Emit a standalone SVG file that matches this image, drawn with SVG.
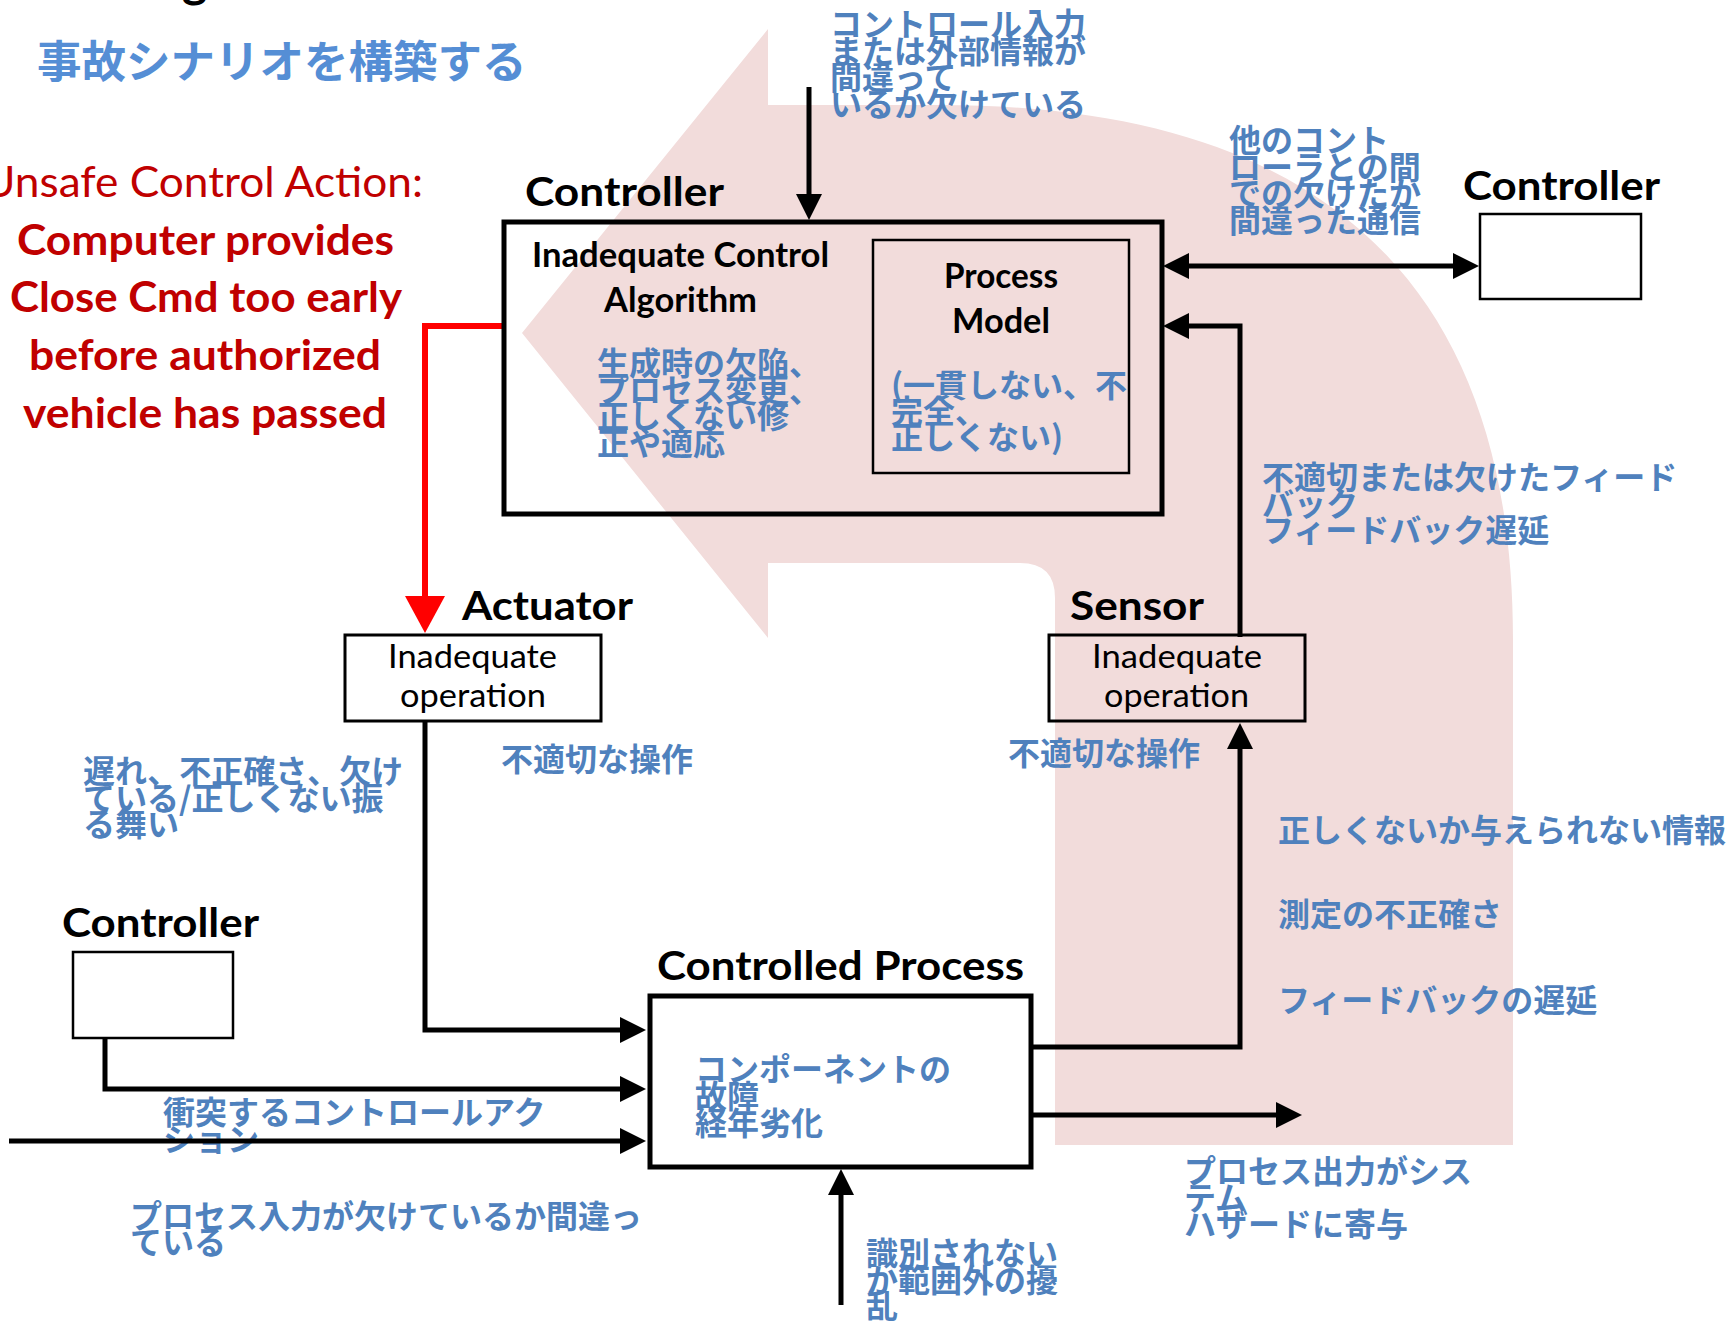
<svg xmlns="http://www.w3.org/2000/svg" width="1727" height="1323" viewBox="0 0 1727 1323">
<style>
.jp{font-family:"Noto Sans CJK JP","Noto Sans CJK SC",sans-serif;font-weight:700;font-size:32px;fill:#4F81BD}
.title{font-family:"Noto Sans CJK JP",sans-serif;font-weight:700;font-size:44.5px;fill:#558ED5}
.en{font-family:Lato,"Liberation Sans",sans-serif}
.lbl{font-weight:700;font-size:40px;fill:#000}
.red{fill:#C00000;font-size:42px}
.in{font-weight:700;font-size:34px;fill:#000}
.op{font-weight:400;font-size:32px;fill:#000}
.box{fill:none;stroke:#000}
.conn{fill:none;stroke:#000;stroke-width:5}
</style>
<defs>
<marker id="ah" viewBox="0 0 26 26" refX="2" refY="13" markerWidth="26" markerHeight="26" markerUnits="userSpaceOnUse" orient="auto-start-reverse">
<path d="M0,0 L26,13 L0,26 z" fill="#000"/>
</marker>
<marker id="ahr" viewBox="0 0 37 40" refX="2" refY="20" markerWidth="37" markerHeight="40" markerUnits="userSpaceOnUse" orient="auto">
<path d="M0,0 L37,20 L0,40 z" fill="#FF0000"/>
</marker>
</defs>
<rect width="1727" height="1323" fill="#fff"/>
<g id="uturn-arrow">
<path d="M522,333 L768,29 L768,105 L940,105 C1330,105 1513,290 1513,640 L1513,1145 L1055,1145 L1055,598 Q1055,563 1020,563 L768,563 L768,638 Z" fill="#F2DCDB"/>
</g>
<g id="heading">
<text class="en" x="182" y="-3" font-size="48" font-weight="700">g</text>
<text class="title" x="37" y="78">事故シナリオを構築する</text>
</g>
<g id="uca">
<text class="en red" x="-17" y="197" textLength="440" lengthAdjust="spacingAndGlyphs">Unsafe Control Action:</text>
<text class="en red" font-weight="700" x="17" y="255" textLength="377" lengthAdjust="spacingAndGlyphs">Computer provides</text>
<text class="en red" font-weight="700" x="10" y="312" textLength="392" lengthAdjust="spacingAndGlyphs">Close Cmd too early</text>
<text class="en red" font-weight="700" x="29" y="370" textLength="352" lengthAdjust="spacingAndGlyphs">before authorized</text>
<text class="en red" font-weight="700" x="23" y="428" textLength="364" lengthAdjust="spacingAndGlyphs">vehicle has passed</text>
</g>
<g id="labels">
<text class="jp"><tspan x="830" y="36">コントロール入力</tspan><tspan x="830" y="62.5">または外部情報が</tspan><tspan x="830" y="89">間違って</tspan><tspan x="830" y="115.5">いるか欠けている</tspan></text>
<text class="jp"><tspan x="1229" y="152">他のコント</tspan><tspan x="1229" y="178.5">ローラとの間</tspan><tspan x="1229" y="205">での欠けたか</tspan><tspan x="1229" y="231.5">間違った通信</tspan></text>
<text class="jp"><tspan x="1262" y="489">不適切または欠けたフィード</tspan><tspan x="1262" y="515.5">バック</tspan><tspan x="1262" y="542">フィードバック遅延</tspan></text>
<text class="jp" x="501" y="771">不適切な操作</text>
<text class="jp" x="1008" y="765">不適切な操作</text>
<text class="jp"><tspan x="83" y="783">遅れ、不正確さ、欠け</tspan><tspan x="83" y="809.5">ている/正しくない振</tspan><tspan x="83" y="836">る舞い</tspan></text>
<text class="jp" x="1278" y="842">正しくないか与えられない情報</text>
<text class="jp" x="1278" y="926">測定の不正確さ</text>
<text class="jp" x="1278" y="1012">フィードバックの遅延</text>
<text class="jp"><tspan x="163" y="1124">衝突するコントロールアク</tspan><tspan x="163" y="1151">ション</tspan></text>
<text class="jp"><tspan x="130" y="1228">プロセス入力が欠けているか間違っ</tspan><tspan x="130" y="1254">ている</tspan></text>
<text class="jp"><tspan x="866" y="1265">識別されない</tspan><tspan x="866" y="1291.5">か範囲外の擾</tspan><tspan x="866" y="1318">乱</tspan></text>
<text class="jp"><tspan x="1184" y="1183">プロセス出力がシス</tspan><tspan x="1184" y="1209.5">テム</tspan><tspan x="1184" y="1236">ハザードに寄与</tspan></text>
</g>
<g id="connectors">
<path class="conn" d="M809,87 V196" marker-end="url(#ah)"/>
<path class="conn" d="M1187,266 H1455" marker-start="url(#ah)" marker-end="url(#ah)"/>
<path class="conn" d="M1240,637 V326 H1187" marker-end="url(#ah)"/>
<path d="M504,326 H425 V598" fill="none" stroke="#FF0000" stroke-width="6" marker-end="url(#ahr)"/>
<path class="conn" d="M425,721 V1030 H622" marker-end="url(#ah)"/>
<path class="conn" d="M105,1038 V1089 H622" marker-end="url(#ah)"/>
<path class="conn" d="M9,1141 H622" marker-end="url(#ah)"/>
<path class="conn" d="M841,1305 V1193" marker-end="url(#ah)"/>
<path class="conn" d="M1031,1047 H1240 V747" marker-end="url(#ah)"/>
<path class="conn" d="M1031,1115 H1278" marker-end="url(#ah)"/>
</g>
<g id="controller-main">
<rect class="box" x="504" y="222" width="658" height="292" stroke-width="5"/>
<text class="en lbl" x="525" y="206" textLength="199" lengthAdjust="spacingAndGlyphs">Controller</text>
<text class="en in" x="532" y="267" textLength="297" lengthAdjust="spacingAndGlyphs">Inadequate Control</text>
<text class="en in" x="604" y="312" textLength="153" lengthAdjust="spacingAndGlyphs">Algorithm</text>
<text class="jp"><tspan x="597" y="375">生成時の欠陥、</tspan><tspan x="597" y="401.5">プロセス変更、</tspan><tspan x="597" y="428">正しくない修</tspan><tspan x="597" y="454.5">正や適応</tspan></text>
</g>
<g id="process-model">
<rect class="box" x="873" y="240" width="256" height="233" stroke-width="2.5"/>
<text class="en in" x="944" y="288" textLength="114" lengthAdjust="spacingAndGlyphs">Process</text>
<text class="en in" x="952" y="333" textLength="98" lengthAdjust="spacingAndGlyphs">Model</text>
<text class="jp"><tspan x="891" y="397">(一貫しない、不</tspan><tspan x="891" y="423">完全、</tspan><tspan x="891" y="449">正しくない)</tspan></text>
</g>
<g id="controller-right">
<rect x="1480" y="214" width="161" height="85" fill="#fff" stroke="#000" stroke-width="2.5"/>
<text class="en lbl" x="1463" y="200" textLength="197" lengthAdjust="spacingAndGlyphs">Controller</text>
</g>
<g id="actuator">
<rect x="345" y="635" width="256" height="86" fill="#fff" stroke="#000" stroke-width="3"/>
<text class="en lbl" x="462" y="620" textLength="171" lengthAdjust="spacingAndGlyphs">Actuator</text>
<text class="en op" x="388" y="668" textLength="169" lengthAdjust="spacingAndGlyphs">Inadequate</text>
<text class="en op" x="400" y="707" textLength="146" lengthAdjust="spacingAndGlyphs">operation</text>
</g>
<g id="sensor">
<rect class="box" x="1049" y="635" width="256" height="86" stroke-width="3"/>
<text class="en lbl" x="1070" y="620" textLength="134" lengthAdjust="spacingAndGlyphs">Sensor</text>
<text class="en op" x="1092" y="668" textLength="170" lengthAdjust="spacingAndGlyphs">Inadequate</text>
<text class="en op" x="1104" y="707" textLength="145" lengthAdjust="spacingAndGlyphs">operation</text>
</g>
<g id="controller-left">
<rect x="73" y="952" width="160" height="86" fill="#fff" stroke="#000" stroke-width="2.5"/>
<text class="en lbl" x="62" y="937" textLength="197" lengthAdjust="spacingAndGlyphs">Controller</text>
</g>
<g id="controlled-process">
<rect x="650" y="996" width="381" height="171" fill="#fff" stroke="#000" stroke-width="5"/>
<text class="en lbl" x="657" y="980" textLength="367" lengthAdjust="spacingAndGlyphs">Controlled Process</text>
<text class="jp"><tspan x="695" y="1081">コンポーネントの</tspan><tspan x="695" y="1108">故障</tspan><tspan x="695" y="1135">経年劣化</tspan></text>
</g>
</svg>
